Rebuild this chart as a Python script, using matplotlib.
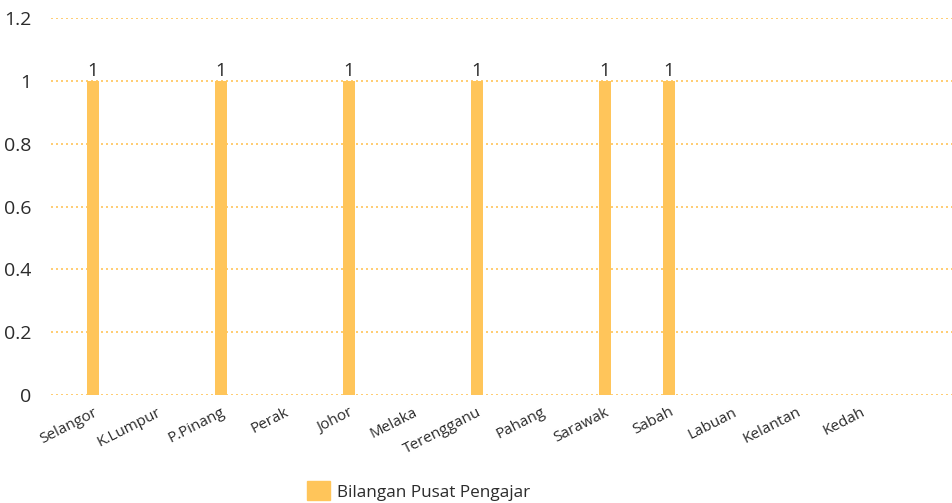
import matplotlib.pyplot as plt
import matplotlib.patches as mpatches
from matplotlib.transforms import ScaledTranslation

negeri = ['Selangor', 'K.Lumpur', 'P.Pinang', 'Perak', 'Johor', 'Melaka',
          'Terengganu', 'Pahang', 'Sarawak', 'Sabah', 'Labuan', 'Kelantan', 'Kedah']
bilangan = [1, 0, 1, 0, 1, 0, 1, 0, 1, 1, 0, 0, 0]
y_ticks = [0, 0.2, 0.4, 0.6, 0.8, 1, 1.2]
y_labels = ['0', '0.2', '0.4', '0.6', '0.8', '1', '1.2']

kuning = '#ffc55a'
teks = '#2b2b2b'

plt.rcParams['font.family'] = ['Open Sans', 'DejaVu Sans']

fig = plt.figure(figsize=(9.52, 5.03), dpi=100)
ax = fig.add_axes([51 / 952, 1 - 395 / 503, (952 - 51) / 952, (395 - 18) / 503])

x = list(range(len(negeri)))
bars = ax.bar(x, bilangan, width=0.19, color=kuning, zorder=3)

for xi, v in zip(x, bilangan):
    if v:
        ax.text(xi, v + 0.003, str(v), ha='center', va='bottom',
                fontsize=13.5, color=teks, zorder=4)

ax.set_xlim(-0.656, 13.42)
ax.set_ylim(0, 1.2)
ax.set_yticks(y_ticks)
ax.set_yticklabels(y_labels, fontsize=14, color=teks)
ax.set_xticks(x)
ax.set_xticklabels(negeri, rotation=27, ha='right', rotation_mode='anchor',
                   fontsize=11, color=teks)
# geser label sumbu-x sedikit ke kanan
geser = ScaledTranslation(8 / 100, 0, fig.dpi_scale_trans)
for lbl in ax.get_xticklabels():
    lbl.set_transform(lbl.get_transform() + geser)
ax.tick_params(axis='both', length=0)
ax.tick_params(axis='y', pad=14)
ax.tick_params(axis='x', pad=7)
for sp in ax.spines.values():
    sp.set_visible(False)
ax.grid(axis='y', color=kuning, linestyle=(0, (1.2, 1.8)), linewidth=1.2, zorder=0)
ax.grid(axis='x', visible=False)

# legenda di bawah
handle = mpatches.Patch(color=kuning, label='Bilangan Pusat Pengajar')
fig.legend(handles=[handle], loc='center left', bbox_to_anchor=(292 / 952, 1 - 491 / 503),
           frameon=False, fontsize=12.3, handlelength=1.3, handleheight=1.3,
           handletextpad=0.45, labelcolor=teks)

fig.savefig('out.png', dpi=100)
